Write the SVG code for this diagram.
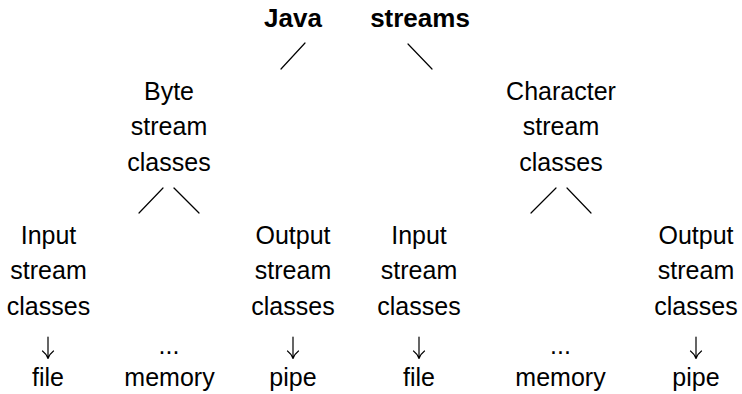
<svg xmlns="http://www.w3.org/2000/svg" width="742" height="394" viewBox="0 0 742 394">
<style>
.t{font-family:"Liberation Sans",Arial,sans-serif;font-size:25px;fill:#000;text-anchor:middle}
.b{font-weight:bold;font-size:26px}
.c{stroke:#000;stroke-width:1.2;fill:none;stroke-linecap:round;stroke-linejoin:round}
</style>
<rect width="742" height="394" fill="#fff"/>
<g id="root">
<text class="t b" x="293" y="27">Java</text>
<text class="t b" x="420" y="27">streams</text>
</g>
<g id="byte">
<text class="t" x="169" y="99.5">Byte</text>
<text class="t" x="169" y="135">stream</text>
<text class="t" x="169" y="170.5">classes</text>
</g>
<g id="character">
<text class="t" x="561" y="99.5">Character</text>
<text class="t" x="561" y="135">stream</text>
<text class="t" x="561" y="170.5">classes</text>
</g>
<g id="byte-input">
<text class="t" x="48.5" y="243.5">Input</text>
<text class="t" x="48.5" y="279">stream</text>
<text class="t" x="48.5" y="314.5">classes</text>
</g>
<g id="byte-more">
<text class="t" x="169" y="354">...</text>
</g>
<g id="byte-output">
<text class="t" x="293" y="243.5">Output</text>
<text class="t" x="293" y="279">stream</text>
<text class="t" x="293" y="314.5">classes</text>
</g>
<g id="char-input">
<text class="t" x="419" y="243.5">Input</text>
<text class="t" x="419" y="279">stream</text>
<text class="t" x="419" y="314.5">classes</text>
</g>
<g id="char-more">
<text class="t" x="560.5" y="354">...</text>
</g>
<g id="char-output">
<text class="t" x="696" y="243.5">Output</text>
<text class="t" x="696" y="279">stream</text>
<text class="t" x="696" y="314.5">classes</text>
</g>
<g id="file1"><text class="t" x="48" y="386">file</text></g>
<g id="memory1"><text class="t" x="169.5" y="386">memory</text></g>
<g id="pipe1"><text class="t" x="293" y="386">pipe</text></g>
<g id="file2"><text class="t" x="419" y="386">file</text></g>
<g id="memory2"><text class="t" x="560.5" y="386">memory</text></g>
<g id="pipe2"><text class="t" x="696" y="386">pipe</text></g>
<g id="connectors" class="c">
<path d="M305,43 L281,69"/>
<path d="M408,44 L432,69"/>
<path d="M163,188 L139,213"/>
<path d="M174,188 L199,213"/>
<path d="M556,188 L531,213"/>
<path d="M567,188 L591,213"/>
<path d="M48,337 V358 M42.5,351 Q46.5,354 48,358.5 Q49.5,354 53.5,351"/>
<path d="M293,337 V358 M287.5,351 Q291.5,354 293,358.5 Q294.5,354 298.5,351"/>
<path d="M419,337 V358 M413.5,351 Q417.5,354 419,358.5 Q420.5,354 424.5,351"/>
<path d="M696,337 V358 M690.5,351 Q694.5,354 696,358.5 Q697.5,354 701.5,351"/>
</g>
</svg>
